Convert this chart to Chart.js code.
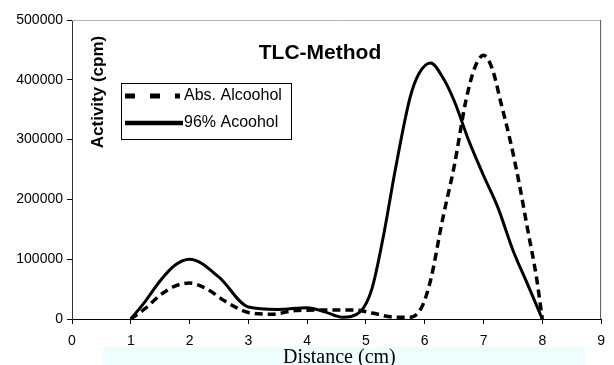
<!DOCTYPE html>
<html>
<head>
<meta charset="utf-8">
<script src="https://cdn.jsdelivr.net/npm/chart.js@4.4.1/dist/chart.umd.min.js"></script>
<style>
  html, body { margin: 0; padding: 0; background: #fff; }
  #wrap { width: 614px; height: 365px; }
</style>
</head>
<body>
<div id="wrap"><canvas id="tlc-chart" width="614" height="365"></canvas></div>
<script>
// Distance (cm) / Activity (cpm)
const absX = [1, 1.25, 1.5, 1.75, 2, 2.3, 2.6, 3, 3.4, 3.8, 4.3, 4.8, 5.1, 5.5, 5.75, 5.95, 6.1, 6.3, 6.5, 6.7, 6.85, 7, 7.15, 7.3, 7.45, 7.6, 7.75, 7.9, 8];
const absY = [0, 18000, 40000, 55000, 60000, 50000, 30000, 11000, 8000, 14000, 15000, 15000, 10000, 3000, 3000, 20000, 65000, 165000, 255000, 365000, 420000, 441000, 418000, 360000, 300000, 230000, 150000, 70000, 0];

const pctX = [1, 1.25, 1.5, 1.75, 2, 2.5, 3, 3.5, 4, 4.3, 4.6, 4.9, 5.1, 5.3, 5.5, 5.75, 5.9, 6.1, 6.3, 6.5, 6.75, 7, 7.25, 7.5, 7.75, 8];
const pctY = [0, 30000, 64000, 90000, 100000, 70000, 20000, 16000, 19000, 12000, 3000, 12000, 50000, 140000, 250000, 370000, 410000, 428000, 405000, 365000, 298000, 240000, 185000, 115000, 58000, 0];

const xTicks = [0, 1, 2, 3, 4, 5, 6, 7, 8, 9];
const yTicks = [0, 100000, 200000, 300000, 400000, 500000];

const seriesNames = ['Abs. Alcoohol', '96% Acoohol'];
const chartTitle = 'TLC-Method';
const yTitle = 'Activity (cpm)';
const xTitle = 'Distance (cm)';

const toPoints = (xs, ys) => xs.map((x, i) => ({ x: x, y: ys[i] }));

// title, legend, axis titles and frame drawn inside the plot like the original
const decorations = {
    id: 'decorations',
    beforeDraw(chart) {
        const c = chart.ctx;
        const a = chart.chartArea;
        c.save();
        // cyan band behind the x title
        c.fillStyle = '#eefdfd';
        c.fillRect(a.left + 31, a.bottom + 28, 482, 18);
        c.restore();
    },
    afterDraw(chart) {
        const c = chart.ctx;
        const a = chart.chartArea;
        c.save();
        // frame top and right
        c.lineWidth = 1;
        c.strokeStyle = '#b0b0b0';
        c.beginPath();
        c.moveTo(a.left, a.top + 0.5);
        c.lineTo(a.right, a.top + 0.5);
        c.stroke();
        c.strokeStyle = '#555';
        c.beginPath();
        c.moveTo(a.right - 0.5, a.top);
        c.lineTo(a.right - 0.5, a.bottom);
        c.stroke();

        // chart title
        c.fillStyle = '#000';
        c.font = 'bold 21px "Liberation Sans", Arial, sans-serif';
        c.textAlign = 'center';
        c.textBaseline = 'middle';
        c.fillText(chartTitle, 320, 53);

        // y title inside the plot
        c.save();
        c.translate(98, 92);
        c.rotate(-Math.PI / 2);
        c.font = 'bold 17px "Liberation Sans", Arial, sans-serif';
        c.fillText(yTitle, 0, 0);
        c.restore();

        // x title
        c.font = '20px "Liberation Serif", "Times New Roman", serif';
        c.textAlign = 'left';
        c.textBaseline = 'alphabetic';
        c.fillText(xTitle, 283, 363);

        // legend box
        c.textBaseline = 'middle';
        c.strokeStyle = '#000';
        c.lineWidth = 1;
        c.strokeRect(121.5, 83.5, 170, 56);
        c.font = '16px "Liberation Sans", Arial, sans-serif';
        c.lineWidth = 5;
        c.setLineDash([10, 15]);
        c.beginPath();
        c.moveTo(125, 96);
        c.lineTo(180, 96);
        c.stroke();
        c.setLineDash([]);
        c.lineWidth = 4.5;
        c.beginPath();
        c.moveTo(125, 123);
        c.lineTo(183, 123);
        c.stroke();
        c.fillText(seriesNames[0], 184, 96);
        c.fillText(seriesNames[1], 184, 123);
        c.restore();
    }
};

const ctx = document.getElementById('tlc-chart').getContext('2d');
new Chart(ctx, {
    type: 'line',
    data: {
        datasets: [{
            label: seriesNames[0],
            data: toPoints(absX, absY),
            borderColor: '#000',
            borderWidth: 3.5,
            borderDash: [8, 5],
            pointRadius: 0,
            cubicInterpolationMode: 'monotone',
            fill: false
        }, {
            label: seriesNames[1],
            data: toPoints(pctX, pctY),
            borderColor: '#000',
            borderWidth: 3,
            pointRadius: 0,
            cubicInterpolationMode: 'monotone',
            fill: false
        }]
    },
    options: {
        responsive: false,
        animation: false,
        layout: { padding: { top: 20, right: 3, left: 0, bottom: 0 } },
        plugins: {
            legend: { display: false },
            tooltip: { enabled: false }
        },
        scales: {
            x: {
                type: 'linear',
                min: 0,
                max: 9,
                afterBuildTicks: axis => { axis.ticks = xTicks.map(v => ({ value: v })); },
                afterFit: axis => { axis.height = 46; },
                ticks: {
                    color: '#000',
                    padding: 9,
                    font: { family: '"Liberation Sans", Arial, sans-serif', size: 14 }
                },
                grid: { drawOnChartArea: false, tickLength: 5, color: '#000' },
                border: { color: '#000', width: 1 }
            },
            y: {
                min: 0,
                max: 500000,
                afterBuildTicks: axis => { axis.ticks = yTicks.map(v => ({ value: v })); },
                afterFit: axis => { axis.width = 72; },
                ticks: {
                    color: '#000',
                    padding: 4,
                    callback: v => String(v),
                    font: { family: '"Liberation Sans", Arial, sans-serif', size: 14 }
                },
                grid: { drawOnChartArea: false, tickLength: 5, color: '#000' },
                border: { color: '#333', width: 1 }
            }
        }
    },
    plugins: [decorations]
});
</script>
</body>
</html>
